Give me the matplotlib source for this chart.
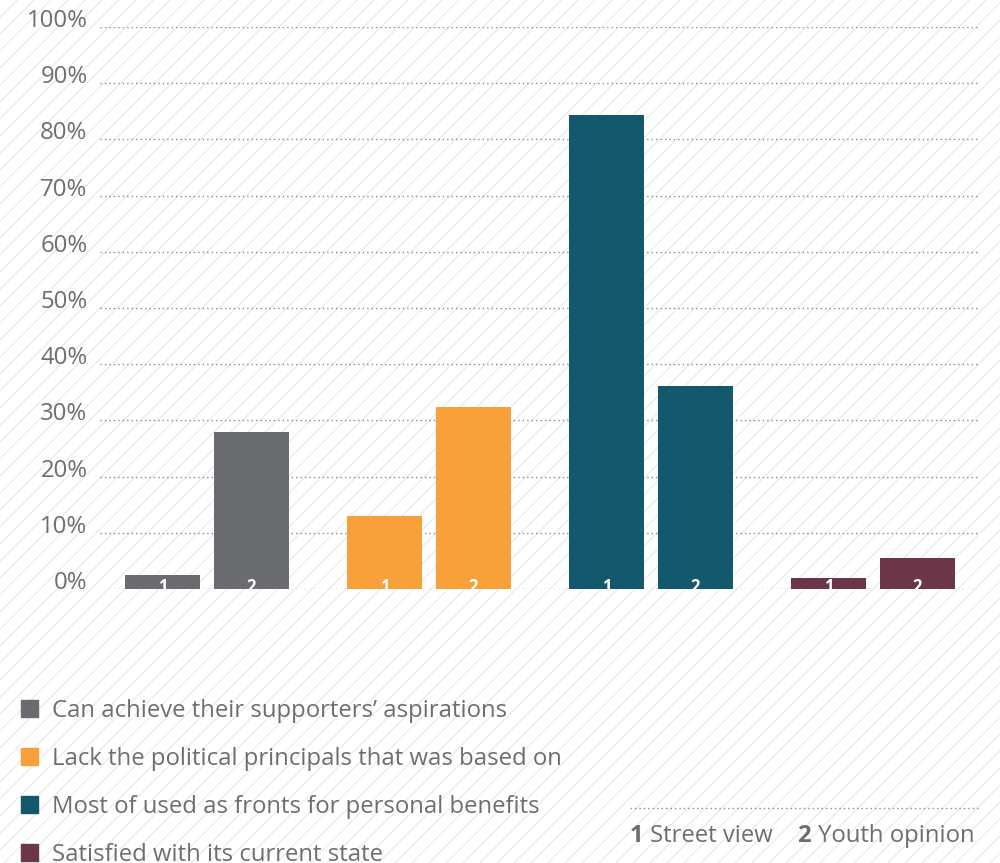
import numpy as np
import matplotlib
matplotlib.use('Agg')
import matplotlib.pyplot as plt
from matplotlib.lines import Line2D
from matplotlib.patches import Rectangle

plt.rcParams['font.family'] = ['Open Sans', 'DejaVu Sans']

# data
categories = ["Can achieve their supporters\u2019 aspirations",
              "Lack the political principals that was based on",
              "Most of used as fronts for personal benefits",
              "Satisfied with its current state"]
street_view = [2.5, 13.0, 84.3, 2.0]
youth_opinion = [28.0, 32.4, 36.1, 5.5]
colors = ['#6b6c70', '#f8a13a', '#14586e', '#6b3748']
yticks = list(range(0, 101, 10))
ytick_labels = [f'{t}%' for t in yticks]

txt_color = '#6d6e71'
fs = 17.2

fig = plt.figure(figsize=(10, 8.63), dpi=100)
W, H = 1000, 863

# diagonal background hatch
bg = fig.add_axes([0, 0, 1, 1], zorder=-10)
bg.set_xlim(0, W)
bg.set_ylim(0, H)
bg.axis('off')
for x0 in np.arange(-H, W + 20, 17):
    bg.plot([x0, x0 + H], [0, H], color='#ececec', lw=1.0)

ax = fig.add_axes([100 / W, 1 - 589 / H, 878 / W, 562 / H])
ax.patch.set_alpha(0)
ax.set_ylim(0, 100)
ax.set_xlim(-0.482, 3.473)

for y in yticks:
    ax.axhline(y, color='#8a8a8a', lw=1.0, ls=(0, (1, 2.2)), zorder=1)

x = np.arange(len(categories))
off = 0.2
bw = 0.338
for i in range(len(categories)):
    for j, (val, lab) in enumerate([(street_view[i], '1'), (youth_opinion[i], '2')]):
        xc = x[i] - off if j == 0 else x[i] + off
        b = ax.bar(xc, val, width=bw, color=colors[i], zorder=3)[0]
        t = ax.text(xc, -0.5, lab, ha='center', va='baseline', color='white',
                    fontsize=12, fontweight='bold', zorder=4)
        t.set_clip_path(b)

ax.set_yticks(yticks)
ax.set_yticklabels(ytick_labels, fontsize=fs, color=txt_color)
for lbl in ax.get_yticklabels():
    lbl.set_verticalalignment('baseline')
ax.tick_params(axis='y', length=0, pad=9)
ax.set_xticks([])
for s in ax.spines.values():
    s.set_visible(False)

# legend
leg_y = [709, 757, 805, 853]
for c, lab, yy in zip(colors, categories, leg_y):
    fig.patches.append(Rectangle((21 / W, 1 - (yy + 8) / H), 17 / W, 17 / H,
                                 transform=fig.transFigure, color=c))
    fig.text(52 / W, 1 - (yy + 2) / H, lab, fontsize=fs, color=txt_color,
             va='center', ha='left')

# series key
fig.add_artist(Line2D([630 / W, 978 / W], [1 - 808 / H, 1 - 808 / H],
                      color='#8a8a8a', lw=1.0, ls=(0, (1, 2.2))))
ky = 1 - 836 / H
fig.text(630 / W, ky, '1', fontsize=fs, color=txt_color,
         fontweight='bold', va='center')
fig.text(650 / W, ky, 'Street view', fontsize=fs, color=txt_color,
         va='center')
fig.text(797 / W, ky, '2', fontsize=fs, color=txt_color,
         fontweight='bold', va='center')
fig.text(818 / W, ky, 'Youth opinion', fontsize=fs, color=txt_color,
         va='center')

fig.savefig('out.png', dpi=100)
